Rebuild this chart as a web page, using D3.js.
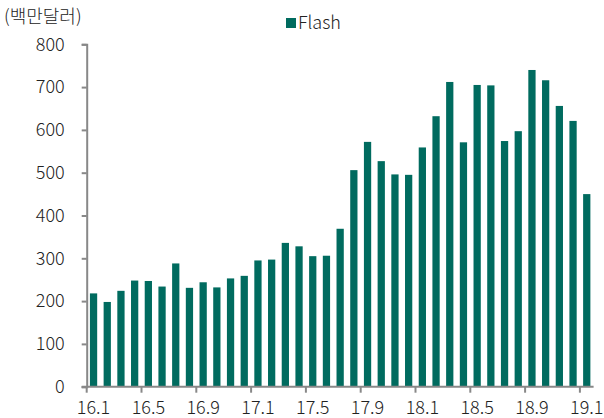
<!DOCTYPE html>
<html>
<head>
<meta charset="utf-8">
<script src="https://cdn.jsdelivr.net/npm/d3@7"></script>
<style>
  body { margin: 0; background: #fff; }
  text { font-family: "Noto Sans CJK KR", "Noto Sans", sans-serif; font-weight: 300; fill: #222; }
</style>
</head>
<body>
<script>
// monthly categories 16.1 .. 19.1
var months = ["16.1","16.2","16.3","16.4","16.5","16.6","16.7","16.8","16.9","16.10","16.11","16.12",
              "17.1","17.2","17.3","17.4","17.5","17.6","17.7","17.8","17.9","17.10","17.11","17.12",
              "18.1","18.2","18.3","18.4","18.5","18.6","18.7","18.8","18.9","18.10","18.11","18.12",
              "19.1"];

// Flash, million USD
var flash = [218, 198, 224, 248, 247, 234, 288, 231, 244, 232, 253, 259,
             295, 297, 336, 328, 305, 306, 369, 506, 572, 527, 496, 495,
             559, 632, 712, 571, 705, 704, 574, 597, 740, 716, 656, 621,
             450];

var tickLabels = ["16.1","16.5","16.9","17.1","17.5","17.9","18.1","18.5","18.9","19.1"];
var yTicks = [0, 100, 200, 300, 400, 500, 600, 700, 800];

(function(){

// frame
var width = 604, height = 418,
    plotLeft = 86.7, plotRight = 593.6,
    plotTop = 44.3, plotBottom = 386.7,
    barColor = "#006b5f",
    axisColor = "#888";

var svg = d3.select("body").append("svg")
    .attr("width", width)
    .attr("height", height);

var x = d3.scaleBand()
    .domain(months)
    .range([plotLeft, plotRight])
    .paddingInner(0.47)
    .paddingOuter(0.235);

var y = d3.scaleLinear()
    .domain([0, 800])
    .range([plotBottom, plotTop]);

// bars
svg.selectAll(".bar")
    .data(flash)
    .enter()
    .append("rect")
    .attr("class", "bar")
    .attr("x", function(d, i){ return x(months[i]); })
    .attr("width", x.bandwidth())
    .attr("y", function(d){ return y(d); })
    .attr("height", function(d){ return plotBottom - y(d); })
    .attr("fill", barColor);

// y axis
var yAxis = svg.append("g")
    .attr("transform", "translate(" + plotLeft + ",0)")
    .call(d3.axisLeft(y).tickValues(yTicks).tickSize(5).tickPadding(17));
yAxis.select(".domain").attr("stroke", axisColor).attr("stroke-width", 2);
yAxis.selectAll(".tick line").attr("stroke", axisColor).attr("stroke-width", 2);
yAxis.selectAll(".tick text")
    .style("font-size", "18px")
    .style("font-family", "'Noto Sans CJK KR', sans-serif")
    .style("font-weight", 300)
    .attr("fill", "#222");

// x axis: ticks at band edges, labels at band centres
var step = x.step();
var xg = svg.append("g");
xg.append("line")
    .attr("x1", plotLeft - 5).attr("x2", plotRight)
    .attr("y1", plotBottom).attr("y2", plotBottom)
    .attr("stroke", axisColor).attr("stroke-width", 2);

var xTick = xg.selectAll(".xtick")
    .data(tickLabels)
    .enter()
    .append("g")
    .attr("class", "xtick")
    .attr("transform", function(d){ return "translate(" + (x(d) - (step - x.bandwidth()) / 2) + "," + plotBottom + ")"; });
xTick.append("line")
    .attr("y1", 0).attr("y2", 6)
    .attr("stroke", axisColor).attr("stroke-width", 2);
xTick.append("text")
    .attr("x", step / 2)
    .attr("y", 27)
    .attr("text-anchor", "middle")
    .style("font-size", "18px")
    .text(function(d){ return d; });

// unit label
svg.append("text")
    .attr("x", 4)
    .attr("y", 23)
    .style("font-size", "18px")
    .text("(백만달러)");

// legend
svg.append("rect")
    .attr("x", 286).attr("y", 18)
    .attr("width", 10).attr("height", 10)
    .attr("fill", barColor);
svg.append("text")
    .attr("x", 298)
    .attr("y", 29)
    .style("font-size", "18px")
    .text("Flash");

})();
</script>
</body>
</html>
